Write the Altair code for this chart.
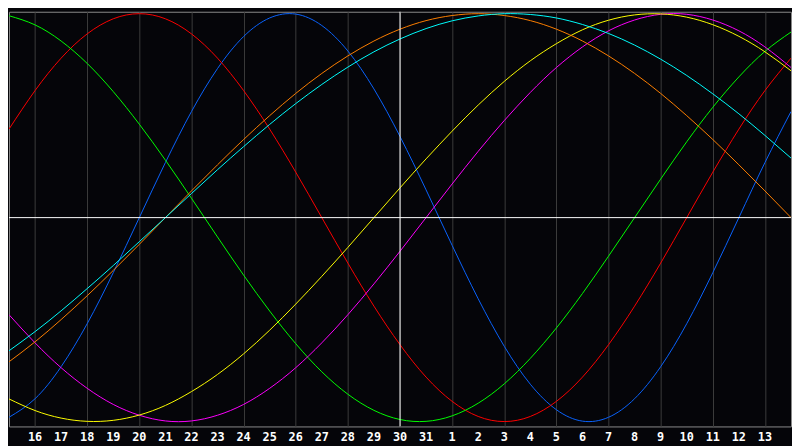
import altair as alt
import pandas as pd

# x positions: chart day index (15 = left edge ... 45 = right edge)
day_index = list(range(15, 46))
day_labels = [str(d) for d in range(15, 32)] + [str(d) for d in range(1, 15)]
tick_days = list(range(16, 45))
today_day = 30

series_names = ["Physical", "Emotional", "Intellectual", "Intuitive",
                "Aesthetic", "Awareness", "Spiritual"]
series_colors = ["#0a64ff", "#ff0000", "#00ff00", "#ff00ff",
                 "#ffff00", "#ff8000", "#00ffff"]

physical = [-0.979, -0.888, -0.731, -0.520, -0.270, 0.000, 0.270, 0.520, 0.731, 0.888,
            0.979, 0.998, 0.942, 0.817, 0.631, 0.398, 0.136, -0.136, -0.398, -0.631,
            -0.817, -0.942, -0.998, -0.979, -0.888, -0.731, -0.520, -0.270, 0.000, 0.270,
            0.520]
emotional = [0.434, 0.623, 0.782, 0.901, 0.975, 1.000, 0.975, 0.901, 0.782, 0.623,
             0.434, 0.223, 0.000, -0.223, -0.434, -0.623, -0.782, -0.901, -0.975, -1.000,
             -0.975, -0.901, -0.782, -0.623, -0.434, -0.223, 0.000, 0.223, 0.434, 0.623,
             0.782]
intellectual = [0.990, 0.945, 0.866, 0.756, 0.618, 0.458, 0.282, 0.095, -0.095, -0.282,
                -0.458, -0.618, -0.756, -0.866, -0.945, -0.990, -0.999, -0.972, -0.910, -0.815,
                -0.690, -0.541, -0.372, -0.189, 0.000, 0.189, 0.372, 0.541, 0.690, 0.815,
                0.910]
intuitive = [-0.476, -0.614, -0.736, -0.837, -0.916, -0.969, -0.997, -0.997, -0.969, -0.916,
             -0.837, -0.736, -0.614, -0.476, -0.325, -0.165, 0.000, 0.165, 0.325, 0.476,
             0.614, 0.736, 0.837, 0.916, 0.969, 0.997, 0.997, 0.969, 0.916, 0.837,
             0.736]
aesthetic = [-0.889, -0.946, -0.983, -0.999, -0.994, -0.968, -0.921, -0.853, -0.769, -0.668,
             -0.552, -0.424, -0.288, -0.146, 0.000, 0.146, 0.288, 0.424, 0.552, 0.668,
             0.769, 0.853, 0.921, 0.968, 0.994, 0.999, 0.983, 0.946, 0.889, 0.813,
             0.720]
awareness = [-0.707, -0.609, -0.500, -0.383, -0.259, -0.131, 0.000, 0.131, 0.259, 0.383,
             0.500, 0.609, 0.707, 0.793, 0.866, 0.924, 0.966, 0.991, 1.000, 0.991,
             0.966, 0.924, 0.866, 0.793, 0.707, 0.609, 0.500, 0.383, 0.259, 0.131,
             0.000]
spiritual = [-0.653, -0.559, -0.457, -0.348, -0.235, -0.118, 0.000, 0.118, 0.235, 0.348,
             0.457, 0.559, 0.653, 0.738, 0.813, 0.876, 0.927, 0.965, 0.989, 1.000,
             0.996, 0.979, 0.947, 0.903, 0.846, 0.777, 0.697, 0.607, 0.509, 0.403,
             0.292]

series_values = [physical, emotional, intellectual, intuitive, aesthetic, awareness, spiritual]

rows = []
for order, (name, vals) in enumerate(zip(series_names, series_values)):
    for d, v in zip(day_index, vals):
        rows.append({"day": d, "value": v, "series": name, "ord": order})
df = pd.DataFrame(rows)

label_df = pd.DataFrame({
    "day": tick_days,
    "label": [day_labels[d - 15] for d in tick_days],
})

PLOT_W, PLOT_H = 792, 420

x_scale = alt.Scale(domain=[15, 45], nice=False, zero=False)
y_scale = alt.Scale(domain=[-1.024, 1.0095], nice=False, zero=False)

lines = alt.Chart(df).mark_line(strokeWidth=1, interpolate="natural", clip=True).encode(
    x=alt.X("day:Q", scale=x_scale,
            axis=alt.Axis(values=tick_days, grid=True, gridColor="#3c3c3c", gridWidth=1,
                          domain=False, ticks=False, labels=False, title=None)),
    y=alt.Y("value:Q", scale=y_scale, axis=None),
    color=alt.Color("series:N", scale=alt.Scale(domain=series_names, range=series_colors),
                    legend=None),
    order=alt.Order("ord:Q"),
)

labels = alt.Chart(label_df).mark_text(
    font="DejaVu Sans Mono", fontSize=12, fontWeight="bold", color="#ffffff",
    baseline="top", align="center"
).encode(
    x=alt.X("day:Q", scale=x_scale),
    y=alt.value(PLOT_H + 6),
    text="label:N",
)

today_rule = alt.Chart(pd.DataFrame({"day": [today_day]})).mark_rule(
    color="#ffffff", strokeWidth=1).encode(x=alt.X("day:Q", scale=x_scale))

zero_rule = alt.Chart(pd.DataFrame({"value": [0.0]})).mark_rule(
    color="#ffffff", strokeWidth=1).encode(y=alt.Y("value:Q", scale=y_scale))

chart = alt.layer(lines, today_rule, zero_rule, labels).properties(
    width=PLOT_W, height=PLOT_H, padding=0, background="#050509"
).configure_view(stroke="#8a8a8a", strokeWidth=1, fill="#050509")

chart.save("out.html", embed_options={"renderer": "svg", "actions": False})
